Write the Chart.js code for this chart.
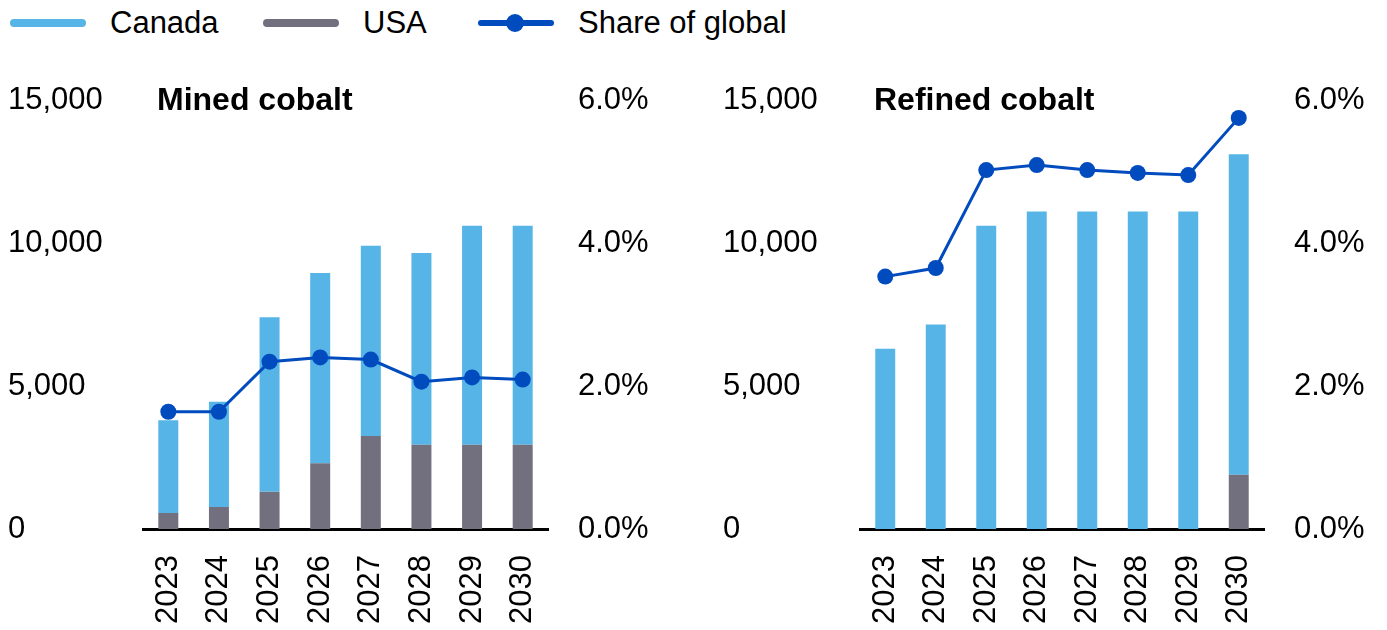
<!DOCTYPE html>
<html>
<head>
<meta charset="utf-8">
<script src="https://cdn.jsdelivr.net/npm/chart.js@4"></script>
<style>
  html, body { margin: 0; padding: 0; background: #fff; }
  body { width: 1387px; height: 630px; position: relative; overflow: hidden;
         font-family: "Liberation Sans", Arial, sans-serif; color: #000; }
  .legend-item { position: absolute; top: 0; height: 45px; display: flex; align-items: center;
                 font-size: 31px; white-space: nowrap; }
  .legend-item svg { margin-right: 24px; }
  canvas { position: absolute; top: 45px; }
  #mined { left: 0; }
  #refined { left: 715px; }
</style>
</head>
<body>
<div id="legend"></div>
<canvas id="mined" width="700" height="585"></canvas>
<canvas id="refined" width="672" height="585"></canvas>
<script>
// Data
const years = ['2023', '2024', '2025', '2026', '2027', '2028', '2029', '2030'];

const minedUSA = [560, 770, 1300, 2300, 3250, 2950, 2950, 2950];
const minedCanada = [3240, 3680, 6100, 6650, 6650, 6700, 7650, 7650];
const minedShare = [1.64, 1.64, 2.34, 2.40, 2.37, 2.06, 2.12, 2.09];

const refinedUSA = [0, 0, 0, 0, 0, 0, 0, 1900];
const refinedCanada = [6300, 7150, 10600, 11100, 11100, 11100, 11100, 11200];
const refinedShare = [3.53, 3.65, 5.02, 5.09, 5.02, 4.98, 4.95, 5.75];

const volumeTicks = ['0', '5,000', '10,000', '15,000'];
const shareTicks = ['0.0%', '2.0%', '4.0%', '6.0%'];

const canadaColor = '#56B5E6';
const usaColor = '#72707F';
const shareColor = '#004BBE';

Chart.defaults.font.family = '"Liberation Sans", Arial, sans-serif';
Chart.defaults.font.size = 31;
Chart.defaults.color = '#000';

// Legend (HTML)
const legendItems = [
    { label: 'Canada', color: canadaColor, x: 10, dot: false },
    { label: 'USA', color: usaColor, x: 263, dot: false },
    { label: 'Share of global', color: shareColor, x: 478, dot: true }
];
const legend = document.getElementById('legend');
legendItems.forEach(item => {
    const div = document.createElement('div');
    div.className = 'legend-item';
    div.style.left = item.x + 'px';
    let svg = '<svg width="76" height="20" viewBox="0 0 76 20">';
    if (item.dot) {
        svg += `<line x1="3" y1="10" x2="73" y2="10" stroke="${item.color}" stroke-width="6" stroke-linecap="round"/>`;
        svg += `<circle cx="37" cy="10" r="9" fill="${item.color}"/>`;
    } else {
        svg += `<line x1="4" y1="10" x2="72" y2="10" stroke="${item.color}" stroke-width="8" stroke-linecap="round"/>`;
    }
    svg += '</svg>';
    div.innerHTML = svg + '<span>' + item.label + '</span>';
    legend.appendChild(div);
});

// Title drawn inside the plot area, top-left
const panelTitle = {
    id: 'panelTitle',
    afterDraw(chart, args, opts) {
        const ctx = chart.ctx;
        ctx.save();
        ctx.font = 'bold 32px "Liberation Sans", Arial, sans-serif';
        ctx.fillStyle = '#000';
        ctx.textBaseline = 'middle';
        ctx.textAlign = 'left';
        ctx.fillText(opts.text, chart.chartArea.left + 14, chart.chartArea.top + 1);
        ctx.restore();
    }
};

function makeChart(id, title, usa, canada, share, leftW, rightW) {
    const ctx = document.getElementById(id).getContext('2d');
    return new Chart(ctx, {
        type: 'bar',
        data: {
            labels: years,
            datasets: [
                {
                    type: 'line',
                    label: 'Share of global',
                    data: share,
                    yAxisID: 'y2',
                    borderColor: shareColor,
                    backgroundColor: shareColor,
                    borderWidth: 3,
                    pointRadius: 8,
                    pointBorderWidth: 0,
                    pointBackgroundColor: shareColor,
                    tension: 0,
                    order: 0
                },
                {
                    label: 'USA',
                    data: usa,
                    backgroundColor: usaColor,
                    stack: 's',
                    order: 1
                },
                {
                    label: 'Canada',
                    data: canada,
                    backgroundColor: canadaColor,
                    stack: 's',
                    order: 1
                }
            ]
        },
        options: {
            responsive: false,
            animation: false,
            layout: { padding: { left: 8, top: 55, right: 0, bottom: 0 } },
            datasets: {
                bar: { categoryPercentage: 1, barPercentage: 0.395 }
            },
            plugins: {
                legend: { display: false },
                tooltip: { enabled: false },
                panelTitle: { text: title }
            },
            scales: {
                x: {
                    stacked: true,
                    grid: { display: false, drawTicks: false, tickLength: 0 },
                    border: { display: true, color: '#000', width: 3 },
                    ticks: { minRotation: 90, maxRotation: 90, padding: 26, autoSkip: false },
                    afterFit(scale) { scale.height = 101; }
                },
                y: {
                    stacked: true,
                    position: 'left',
                    min: 0,
                    max: 15000,
                    grid: { display: false, drawTicks: false, tickLength: 0 },
                    border: { display: false },
                    ticks: {
                        stepSize: 5000,
                        crossAlign: 'far',
                        callback: (v, i) => volumeTicks[i]
                    },
                    afterFit(scale) { scale.width = leftW; }
                },
                y2: {
                    position: 'right',
                    min: 0,
                    max: 6,
                    grid: { display: false, drawTicks: false, tickLength: 0 },
                    border: { display: false },
                    ticks: {
                        stepSize: 2,
                        padding: 30,
                        crossAlign: 'near',
                        callback: (v, i) => shareTicks[i]
                    },
                    afterFit(scale) { scale.width = rightW; }
                }
            }
        },
        plugins: [panelTitle]
    });
}

makeChart('mined', 'Mined cobalt', minedUSA, minedCanada, minedShare, 135, 152);
makeChart('refined', 'Refined cobalt', refinedUSA, refinedCanada, refinedShare, 137, 123);
</script>
</body>
</html>
